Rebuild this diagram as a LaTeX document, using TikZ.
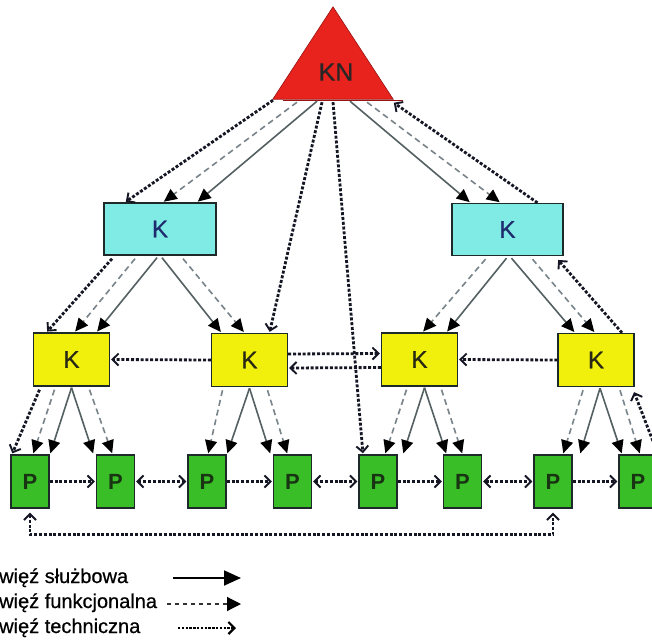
\documentclass[tikz,border=0pt]{standalone}
\usepackage{fontspec}
\setmainfont{Liberation Sans}
\newfontfamily\labelfont[FakeBold=0.6]{Liberation Sans}
\usetikzlibrary{arrows.meta,calc}

\definecolor{knred}{RGB}{232,34,28}
\definecolor{knedge}{RGB}{150,20,20}
\definecolor{kcyan}{RGB}{128,234,228}
\definecolor{kyellow}{RGB}{240,240,12}
\definecolor{pgreen}{RGB}{58,190,40}
\definecolor{boxline}{RGB}{30,42,42}
\definecolor{navy}{RGB}{30,44,110}
\definecolor{darkk}{RGB}{40,40,20}
\definecolor{darkp}{RGB}{24,52,18}
\definecolor{srvgray}{RGB}{84,96,98}
\definecolor{fungray}{RGB}{120,132,138}
\definecolor{techink}{RGB}{20,22,36}

\tikzset{
  filltip/.tip={Triangle[length=13pt,width=12pt,color=black]},
  techtip/.tip={Straight Barb[length=6pt,width=12pt,line width=1.9pt,color=techink]},
  srv/.style={draw=srvgray, line width=1.6pt, -filltip, shorten >=1pt},
  fun/.style={draw=fungray, line width=1.6pt, dash pattern=on 6pt off 4pt, -filltip, shorten >=1pt},
  tech/.style={draw=techink, line width=2.8pt, dash pattern=on 3pt off 1.8pt, -techtip, shorten >=1pt},
  techboth/.style={tech, techtip-techtip, shorten <=1pt},
  cbox/.style={draw=boxline, line width=1.4pt, fill=kcyan, inner sep=0pt,
    minimum width=112pt, minimum height=52pt, text=navy, font=\labelfont\fontsize{24}{26}\selectfont},
  ybox/.style={draw=boxline, line width=1.4pt, fill=kyellow, inner sep=0pt,
    minimum width=76pt, minimum height=53pt, text=darkk, font=\labelfont\fontsize{24}{26}\selectfont},
  pbox/.style={draw=boxline, line width=1.4pt, fill=pgreen, inner sep=0pt,
    minimum width=38pt, minimum height=53pt, text=darkp, font=\bfseries\fontsize{22}{24}\selectfont},
  legtext/.style={inner sep=0pt, anchor=base west, font=\labelfont\fontsize{20}{24}\selectfont},
}

\begin{document}
\begin{tikzpicture}[x=1pt,y=-1pt]
\useasboundingbox (0,0) rectangle (652,642);
\fill[white] (0,0) rectangle (652,642);

% ---- top unit (triangle) ----
\node[inner sep=0pt, minimum width=120pt, minimum height=92pt] (kn) at (333,53) {};
\fill[knred, draw=knedge, line width=0.6pt] (kn.south west) -- (kn.north) -- (kn.south east) -- cycle;
\draw[knedge, line width=1.4pt] ([xshift=10pt,yshift=-1pt]kn.south west) -- ([xshift=10pt,yshift=-1pt]kn.south east);
\node[inner sep=0pt, font=\labelfont\fontsize{25}{26}\selectfont, text=black!85] (knlabel) at (336,72) {KN};

% ---- second level ----
\node[cbox] (c1) at (160,229) {K};
\node[cbox, minimum width=111pt] (c2) at (507.5,229.5) {K};

% ---- third level ----
\node[ybox] (y1) at (71.5,359.5) {K};
\node[ybox] (y2) at (249.5,360) {K};
\node[ybox] (y3) at (419.5,359.5) {K};
\node[ybox] (y4) at (596,360) {K};

% ---- bottom level ----
\node[pbox] (p1) at (30,481.5) {P};
\node[pbox] (p2) at (115.5,481.5) {P};
\node[pbox] (p3) at (207,481.5) {P};
\node[pbox] (p4) at (292.5,481.5) {P};
\node[pbox] (p5) at (378,481.5) {P};
\node[pbox] (p6) at (462.5,481.5) {P};
\node[pbox] (p7) at (553,481.5) {P};
\node[pbox] (p8) at (638,481.5) {P};

% ---- links from the top unit ----
\draw[tech] ([xshift=-60pt,yshift=-1pt]kn.south) -- ([xshift=-35pt]c1.north);
\draw[fun]  ([xshift=-36pt,yshift=-3pt]kn.south) -- ([xshift=3pt]c1.north);
\draw[srv]  ([xshift=-16pt,yshift=-2pt]kn.south) -- ([xshift=37pt]c1.north);
\draw[srv]  ([xshift=17pt,yshift=-2pt]kn.south) -- ([xshift=-37pt]c2.north);
\draw[fun]  ([xshift=34pt,yshift=-3pt]kn.south) -- ([xshift=-7pt]c2.north);
\draw[tech] ([xshift=30pt]c2.north) -- ([xshift=60pt,yshift=-3pt]kn.south);
\draw[tech] ([xshift=-11pt,yshift=-3pt]kn.south) -- ([xshift=20pt]y2.north);
\draw[tech] ([xshift=0pt,yshift=-3pt]kn.south) -- ([xshift=-15pt]p5.north);

% ---- links from the left K ----
\draw[tech] ([xshift=-48pt,yshift=-3pt]c1.south) -- ([xshift=-25pt]y1.north);
\draw[fun]  ([xshift=-25pt,yshift=-3pt]c1.south) -- ([xshift=3pt]y1.north);
\draw[srv]  ([xshift=-3pt,yshift=-2pt]c1.south) -- ([xshift=25pt]y1.north);
\draw[srv]  ([xshift=2pt,yshift=-2pt]c1.south) -- ([xshift=-28pt]y2.north);
\draw[fun]  ([xshift=23pt,yshift=-3pt]c1.south) -- ([xshift=-5pt]y2.north);

% ---- links from the right K ----
\draw[fun]  ([xshift=-22pt,yshift=-3pt]c2.south) -- ([xshift=3pt]y3.north);
\draw[srv]  ([xshift=-1pt,yshift=-2pt]c2.south) -- ([xshift=27pt]y3.north);
\draw[srv]  ([xshift=4pt,yshift=-2pt]c2.south) -- ([xshift=-21pt]y4.north);
\draw[fun]  ([xshift=25pt,yshift=-3pt]c2.south) -- ([xshift=-1pt]y4.north);
\draw[tech] ([xshift=26pt]y4.north) -- ([xshift=50pt,yshift=-3pt]c2.south);

% ---- links between the yellow units ----
\draw[tech] (y2.west) -- (y1.east);
\draw[tech] ([yshift=6pt]y2.east) -- ([yshift=6pt]y3.west);
\draw[tech] ([yshift=-8pt]y3.west) -- ([yshift=-8pt]y2.east);
\draw[tech] (y4.west) -- (y3.east);

% ---- yellow units to the P units ----
\draw[tech] ([xshift=-32pt,yshift=-3pt]y1.south) -- ([xshift=-18pt]p1.north);
\draw[fun]  ([xshift=-17pt,yshift=-3pt]y1.south) -- ([xshift=3pt]p1.north);
\draw[srv]  ([yshift=-1pt]y1.south) -- ([xshift=20pt]p1.north);
\draw[srv]  ([yshift=-1pt]y1.south) -- ([xshift=-22pt]p2.north);
\draw[fun]  ([xshift=18pt,yshift=-3pt]y1.south) -- ([xshift=-3pt]p2.north);

\draw[fun]  ([xshift=-27pt,yshift=-3pt]y2.south) -- ([xshift=1pt]p3.north);
\draw[srv]  ([yshift=-1pt]y2.south) -- ([xshift=20pt]p3.north);
\draw[srv]  ([yshift=-1pt]y2.south) -- ([xshift=-22pt]p4.north);
\draw[fun]  ([xshift=18pt,yshift=-3pt]y2.south) -- ([xshift=-5pt]p4.north);

\draw[fun]  ([xshift=-13pt,yshift=-3pt]y3.south) -- ([xshift=7pt]p5.north);
\draw[srv]  ([xshift=5pt,yshift=-1pt]y3.south) -- ([xshift=25pt]p5.north);
\draw[srv]  ([xshift=5pt,yshift=-1pt]y3.south) -- ([xshift=-16pt]p6.north);
\draw[fun]  ([xshift=22pt,yshift=-3pt]y3.south) -- ([xshift=0pt]p6.north);

\draw[fun]  ([xshift=-13pt,yshift=-3pt]y4.south) -- ([xshift=10pt]p7.north);
\draw[srv]  ([xshift=4pt,yshift=-1pt]y4.south) -- ([xshift=27pt]p7.north);
\draw[srv]  ([xshift=4pt,yshift=-1pt]y4.south) -- ([xshift=-16pt]p8.north);
\draw[fun]  ([xshift=24pt,yshift=-3pt]y4.south) -- ([xshift=2pt]p8.north);
\draw[tech] ([xshift=20pt]p8.north) -- ([xshift=-1pt,yshift=-4pt]y4.south east);

% ---- links between the P units ----
\draw[tech] (p1.east) -- (p2.west);
\draw[techboth] (p2.east) -- (p3.west);
\draw[tech] (p3.east) -- (p4.west);
\draw[techboth] (p4.east) -- (p5.west);
\draw[tech] (p5.east) -- (p6.west);
\draw[techboth] (p6.east) -- (p7.west);
\draw[tech] (p7.east) -- (p8.west);
\draw[techboth] ([yshift=-3pt]p1.south) -- ([yshift=-26pt]p1.south) -| ([yshift=-3pt]p7.south);

% ---- legend ----
\node[legtext] (lg1) at (-1,583) {więź służbowa};
\node[legtext] (lg2) at (-1,608) {więź funkcjonalna};
\node[legtext] (lg3) at (-1,633) {więź techniczna};
\coordinate (lg1a) at (173,578); \coordinate (lg1b) at (241,578);
\coordinate (lg2a) at (167,604); \coordinate (lg2b) at (241,604);
\coordinate (lg3a) at (178,628); \coordinate (lg3b) at (236,628);
\draw[black, line width=1.8pt, -{Triangle[length=17pt,width=15pt]}] (lg1a) -- (lg1b);
\draw[black!80, line width=1.2pt, dash pattern=on 4pt off 4pt, -{Triangle[length=14pt,width=14pt,color=black]}] (lg2a) -- (lg2b);
\draw[black, line width=2.6pt, dash pattern=on 2.4pt off 1.4pt, -{Straight Barb[length=6pt,width=12pt,line width=2.2pt]}] (lg3a) -- (lg3b);
\end{tikzpicture}
\end{document}
